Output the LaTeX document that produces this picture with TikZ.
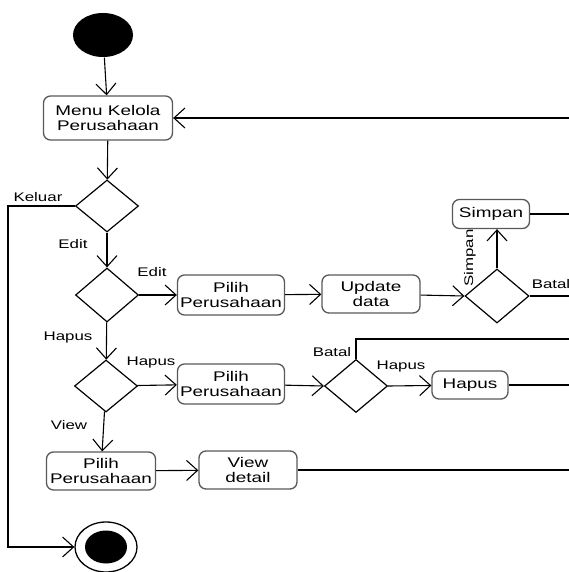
\documentclass[tikz,border=0pt]{standalone}
\usepackage{fontspec}
\setmainfont[FakeStretch=1.35]{Liberation Sans}
\usetikzlibrary{arrows.meta,shapes.geometric}
\tikzset{>={Straight Barb[length=11pt,width=20pt]}}
\tikzset{
  act/.style={draw=black!65, line width=1.3pt, rounded corners=7pt, align=center,
    inner sep=0pt, font=\fontsize{14}{15}\selectfont},
  dec/.style={draw, diamond, line width=1.2pt, inner sep=0pt},
  lbl/.style={font=\fontsize{12.5}{14}\selectfont, inner sep=0pt}
}

\begin{document}
\begin{tikzpicture}[x=1pt, y=-1pt, line width=1.1pt]
    \useasboundingbox (0,0) rectangle (569,572);
    \coordinate (edge) at (569,0);
    \node[ellipse, fill, minimum width=60pt, minimum height=44pt] (start) at (103,35) {};
    \node[act, minimum width=129pt, minimum height=44pt] (menu) at (108,118) {Menu Kelola\\Perusahaan};
    \node[dec, minimum width=63pt, minimum height=52pt] (d1) at (107,206) {};
    \node[dec, minimum width=63pt, minimum height=54pt] (d2) at (107,295) {};
    \node[act, minimum width=107pt, minimum height=40pt] (pilih1) at (231,295) {Pilih\\Perusahaan};
    \node[act, minimum width=98pt, minimum height=38pt] (update) at (371,294) {Update\\data};
    \node[dec, minimum width=64pt, minimum height=54pt] (d3) at (497,296) {};
    \node[act, minimum width=77pt, minimum height=29pt] (simpan) at (491,214) {Simpan};
    \node[dec, minimum width=63pt, minimum height=52pt] (d4) at (106,386) {};
    \node[act, minimum width=107pt, minimum height=40pt] (pilih2) at (231,384) {Pilih\\Perusahaan};
    \node[dec, minimum width=63pt, minimum height=53pt] (d5) at (356,386) {};
    \node[act, minimum width=76pt, minimum height=28pt] (hapus) at (470,385) {Hapus};
    \node[act, minimum width=109pt, minimum height=38pt] (pilih3) at (101,471) {Pilih\\Perusahaan};
    \node[act, minimum width=98pt, minimum height=38pt] (view) at (248,470) {View\\detail};
    \node[ellipse, draw, line width=1.3pt, minimum width=62pt, minimum height=50pt] (end) at (106,547) {};
    \node[ellipse, fill, minimum width=42pt, minimum height=33pt] (endin) at (end) {};
    \coordinate (keluar) at (8,206);
    \coordinate (batal) at (356,339);

    \draw[->] (start) -- (menu);
    \draw[->] (edge |- menu) -- (menu);
    \draw[->] (menu) -- (d1);
    \draw[->] (d1.west) -- (keluar) |- (end.west);
    \draw[->] (d1) -- (d2);
    \draw[->] (d2) -- (pilih1);
    \draw[->] (pilih1) -- (update);
    \draw[->] (update) -- (d3.west);
    \draw[->] (d3.north) -- (d3.north |- simpan.south);
    \draw (simpan.east) -- (simpan.east -| edge);
    \draw (d3.east) -- (d3.east -| edge);
    \draw[->] (d2) -- (d4);
    \draw[->] (d4) -- (pilih2);
    \draw[->] (pilih2) -- (d5.west);
    \draw (d5.north) -- (batal) -- (batal -| edge);
    \draw[->] (d5.east) -- (hapus);
    \draw (hapus.east) -- (hapus.east -| edge);
    \draw[->] (d4) -- (pilih3);
    \draw[->] (pilih3) -- (view);
    \draw (view.east) -- (view.east -| edge);

    \node[lbl] (lkeluar) at (38,197) {Keluar};
    \node[lbl] (ledit1) at (73,244) {Edit};
    \node[lbl] (ledit2) at (152,272) {Edit};
    \node[lbl, rotate=90] (lsimpan) at (470,258) {Simpan};
    \node[lbl] (lbatal1) at (551,284) {Batal};
    \node[lbl] (lhapus1) at (68,337) {Hapus};
    \node[lbl] (lhapus2) at (151,362) {Hapus};
    \node[lbl] (lbatal2) at (332,352) {Batal};
    \node[lbl] (lhapus3) at (401,366) {Hapus};
    \node[lbl] (lview) at (69,425) {View};
\end{tikzpicture}
\end{document}
